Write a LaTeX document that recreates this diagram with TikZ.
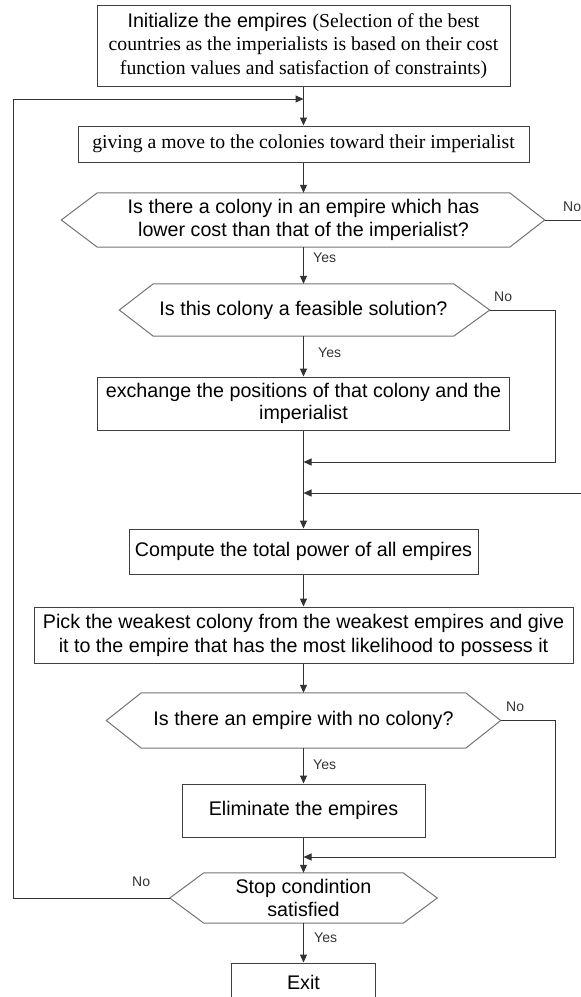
\documentclass[tikz,border=0pt]{standalone}
\usepackage{fontspec}
\setmainfont{Liberation Serif}
\newfontfamily\arial{Liberation Sans}
\usetikzlibrary{arrows.meta}
\begin{document}
\begin{tikzpicture}[x=1pt,y=-1pt,
  boxtext/.style={font=\arial\fontsize{19.7}{23.5}\selectfont, text=black, align=center},
  box/.style={boxtext, rectangle, draw=black!75, line width=1pt, inner sep=0pt},
  hexa/.style={boxtext, rectangle, draw=none, inner sep=0pt},
  hexline/.style={draw=black!55, line width=1pt, line join=miter},
  conn/.style={draw=black!80, line width=1pt},
  arr/.style={conn, -{Triangle[length=8pt,width=7pt]}},
  lbl/.style={font=\arial\fontsize{14}{16}\selectfont, text=black!80, inner sep=0pt}]
\useasboundingbox (0,0) rectangle (581,997);
\clip (0,0) rectangle (581,997);

% boxes
\node[box, minimum width=413pt, minimum height=81pt] (init) at (303.5,45.5)
  {\fontsize{19.7}{23}\selectfont Initialize the empires {\rmfamily (Selection of the best}\\
   \rmfamily countries as the imperialists is based on their cost\\
   \rmfamily function values and satisfaction of constraints)};
\node[box, minimum width=451pt, minimum height=36pt, font=\rmfamily\fontsize{19.7}{23.5}\selectfont] (give) at (303.5,144)
  {giving a move to the colonies toward their imperialist};

\node[hexa, minimum width=412pt, minimum height=54pt] (h1) at (303.5,220)
  {\fontsize{19.7}{26}\selectfont Is there a colony in an empire which has\\ lower cost than that of the imperialist?};
\draw[hexline] ([xshift=-36pt]h1.west) -- (h1.north west) -- (h1.north east) -- ([xshift=35pt]h1.east) -- (h1.south east) -- (h1.south west) -- cycle;
\coordinate (h1R) at ([xshift=35pt]h1.east);

\node[hexa, minimum width=300pt, minimum height=52pt] (h2) at (303.5,310)
  {Is this colony a feasible solution?};
\draw[hexline] ([xshift=-34pt]h2.west) -- (h2.north west) -- (h2.north east) -- ([xshift=36pt]h2.east) -- (h2.south east) -- (h2.south west) -- cycle;
\coordinate (h2R) at ([xshift=36pt]h2.east);

\node[box, minimum width=412pt, minimum height=53pt, font=\arial\fontsize{19.7}{22}\selectfont] (exch) at (303.5,403.5)
  {exchange the positions of that colony and the\\ imperialist};

\node[box, minimum width=349pt, minimum height=45pt] (comp) at (303.5,551.5)
  {Compute the total power of all empires};

\node[box, minimum width=539pt, minimum height=56pt, font=\arial\fontsize{19.7}{24}\selectfont] (pick) at (303.5,635)
  {Pick the weakest colony from the weakest empires and give\\ it to the empire that has the most likelihood to possess it};

\node[hexa, minimum width=324pt, minimum height=55pt] (h3) at (303.5,720.5)
  {Is there an empire with no colony?};
\draw[hexline] ([xshift=-35pt]h3.west) -- (h3.north west) -- (h3.north east) -- ([xshift=35pt]h3.east) -- (h3.south east) -- (h3.south west) -- cycle;
\coordinate (h3R) at ([xshift=35pt]h3.east);

\node[box, minimum width=243pt, minimum height=53pt] (elim) at (303.5,810.5)
  {Eliminate the empires};

\node[hexa, minimum width=199pt, minimum height=50pt] (stop) at (303.5,898)
  {Stop condintion\\ satisfied};
\draw[hexline] ([xshift=-34pt]stop.west) -- (stop.north west) -- (stop.north east) -- ([xshift=34pt]stop.east) -- (stop.south east) -- (stop.south west) -- cycle;
\coordinate (stopL) at ([xshift=-34pt]stop.west);

\node[box, minimum width=144pt, minimum height=38pt] (exit) at (303.5,982)
  {Exit};

% helper coordinates
\coordinate (mtop) at (303.5,99);
\coordinate (loopc) at (13.5,99);
\coordinate (rimA) at (590,220);
\coordinate (rimB) at (590,493);
\coordinate (mB) at (303.5,493);
\coordinate (c2) at (555,462);
\coordinate (m2) at (303.5,462);
\coordinate (c3) at (555,857);
\coordinate (m3) at (303.5,857);

% main flow
\draw[arr] (init) -- (give);
\draw[arr] (give) -- (h1);
\draw[arr] (h1) -- (h2);
\draw[arr] (h2) -- (exch);
\draw[arr] (exch) -- (comp);
\draw[arr] (comp) -- (pick);
\draw[arr] (pick) -- (h3);
\draw[arr] (h3) -- (elim);
\draw[arr] (elim) -- (stop);
\draw[arr] (stop) -- (exit);

% branches
\draw[conn] (h1R) -- (rimA);
\draw[arr] (rimB) -- (mB);
\draw[arr] (h2R) -| (c2) -- (m2);
\draw[arr] (h3R) -| (c3) -- (m3);
\draw[arr] (stopL) -| (loopc) -- (mtop);

% labels
\node[lbl, anchor=west] (no1) at (563,207) {No};
\node[lbl, anchor=west] (yes1) at (313,258) {Yes};
\node[lbl, anchor=west] (no2) at (494,297) {No};
\node[lbl, anchor=west] (yes2) at (318,353) {Yes};
\node[lbl, anchor=west] (no3) at (506,707) {No};
\node[lbl, anchor=west] (yes3) at (313,765) {Yes};
\node[lbl, anchor=west] (no4) at (132,882) {No};
\node[lbl, anchor=west] (yes4) at (314,938) {Yes};
\end{tikzpicture}
\end{document}
